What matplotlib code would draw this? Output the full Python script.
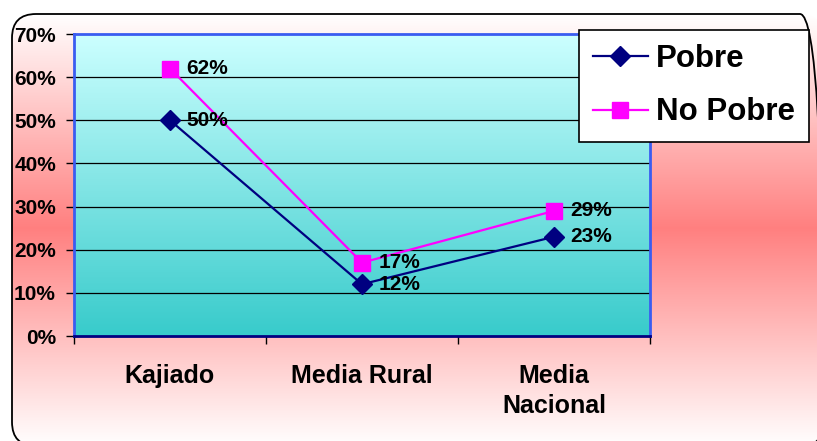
import matplotlib
matplotlib.use('Agg')
import matplotlib.pyplot as plt
import numpy as np
from matplotlib.patches import FancyBboxPatch
from matplotlib.colors import LinearSegmentedColormap

categories = ['Kajiado', 'Media Rural', 'Media\nNacional']
pobre = [50, 12, 23]
no_pobre = [62, 17, 29]
yticks = [0, 10, 20, 30, 40, 50, 60, 70]

plt.rcParams['font.family'] = ['Liberation Sans', 'DejaVu Sans']
plt.rcParams['font.weight'] = 'bold'

W, H = 817, 441
fig = plt.figure(figsize=(W / 100, H / 100), dpi=100)
fig.patch.set_facecolor('white')

# background: rounded box with white-red-white vertical gradient
# (pixel units, y measured upwards)
bg = fig.add_axes([0, 0, 1, 1])
bg.axis('off')
left, right, top, bottom = 12, 824, H - 14, H - 446
ys = np.linspace(top, bottom, 400)
peak = H - 228
t = np.where(ys > peak, (top - ys) / (top - peak), (ys - bottom) / (peak - bottom))
white = np.array([1.0, 1.0, 1.0])
red = np.array([1.0, 0.5, 0.5])
grad = white[None, :] * (1 - t[:, None]) + red[None, :] * t[:, None]
img = np.repeat(grad[:, None, :], 2, axis=1)
box = FancyBboxPatch((left, bottom), right - left, top - bottom,
                     boxstyle='round,pad=0,rounding_size=24',
                     facecolor='none', edgecolor='black', linewidth=1.3, zorder=3)
bg.add_patch(box)
im = bg.imshow(img, extent=[left, right, bottom, top], origin='upper',
               aspect='auto', zorder=1)
im.set_clip_path(box)
bg.set_xlim(0, W)
bg.set_ylim(0, H)

# main plot
ax = fig.add_axes([74 / W, 1 - 336 / H, (650 - 74) / W, (336 - 34) / H])
cmap = LinearSegmentedColormap.from_list('pa', ['#38cbcb', '#ccffff'])
ax.imshow(np.linspace(0, 1, 256)[:, None], extent=[0, 3, 0, 70], origin='lower',
          aspect='auto', cmap=cmap, zorder=0)
ax.set_xlim(0, 3)
ax.set_ylim(0, 70)
ax.set_facecolor('none')

for yv in yticks[1:-1]:
    ax.axhline(yv, color='black', linewidth=0.9, zorder=1)

xs = np.arange(len(categories)) + 0.5
ax.plot(xs, pobre, color='#000080', linewidth=1.6, marker='D', markersize=10.5,
        label='Pobre', zorder=3)
ax.plot(xs, no_pobre, color='#ff00ff', linewidth=1.6, marker='s', markersize=11,
        label='No Pobre', zorder=3)

for x, v in zip(xs, pobre):
    ax.annotate(f'{v}%', (x, v), xytext=(12, 0), textcoords='offset points',
                ha='left', va='center', fontsize=15, fontweight='bold', zorder=4)
for x, v in zip(xs, no_pobre):
    ax.annotate(f'{v}%', (x, v), xytext=(12, 0), textcoords='offset points',
                ha='left', va='center', fontsize=15, fontweight='bold', zorder=4)

ax.set_yticks(yticks)
ax.set_yticklabels([f'{v}%' for v in yticks], fontsize=15, fontweight='bold')
ax.tick_params(axis='y', length=6, width=1, pad=7, direction='out')
ax.set_xticks([0, 1, 2, 3])
ax.set_xticklabels([])
ax.tick_params(axis='x', which='major', length=6, width=1, direction='out')
ax.set_xticks(xs, minor=True)
ax.set_xticklabels(categories, minor=True, fontsize=18, fontweight='bold',
                   linespacing=1.35, va='top')
ax.tick_params(axis='x', which='minor', length=0, pad=20)

for s in ['top', 'right', 'left']:
    ax.spines[s].set_color('#3a5cf0')
    ax.spines[s].set_linewidth(2)
ax.spines['bottom'].set_color('#000080')
ax.spines['bottom'].set_linewidth(2)

leg = ax.legend(loc='upper left', bbox_to_anchor=(579 / W, 1 - 30 / H),
                bbox_transform=fig.transFigure, borderaxespad=0,
                prop={'size': 22.5, 'weight': 'bold'}, handlelength=1.75,
                handletextpad=0.25, borderpad=0.45, labelspacing=0.75,
                fancybox=False, framealpha=1, edgecolor='black')
leg.get_frame().set_linewidth(1.2)
leg.set_zorder(10)

fig.savefig('out.png', dpi=100)
